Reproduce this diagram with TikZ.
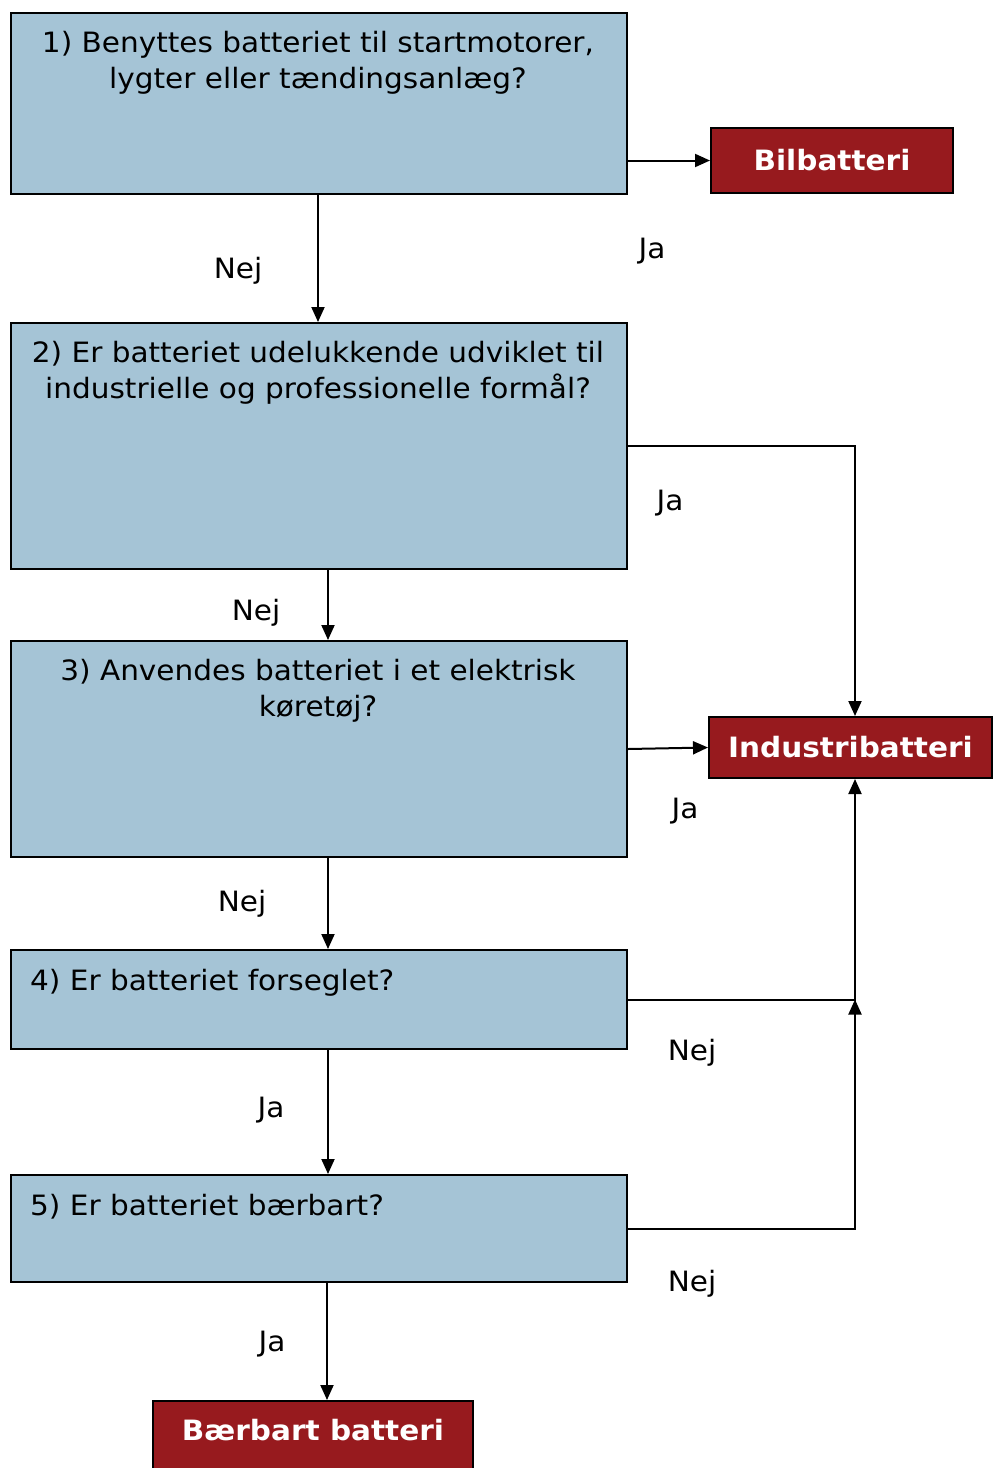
\documentclass[tikz,border=0pt]{standalone}
\usepackage{fontspec}
\setmainfont[FakeStretch=1.055]{DejaVu Sans}
\usetikzlibrary{arrows.meta}
\definecolor{boxblue}{RGB}{165,196,214}
\definecolor{resred}{RGB}{151,26,30}
\begin{document}
\begin{tikzpicture}[x=1pt,y=-1pt,
 qbox/.style={draw, line width=2pt, fill=boxblue, anchor=north west, inner sep=0pt},
 rbox/.style={draw, line width=2pt, fill=resred, inner sep=0pt, font=\fontsize{28}{32}\selectfont\bfseries, text=white},
 qtext/.style={font=\fontsize{28}{36}\selectfont, align=center, inner sep=0pt},
 lbl/.style={font=\fontsize{28}{32}\selectfont, inner sep=0pt, anchor=base},
 arr/.style={line width=2pt, -{Triangle[length=15pt,width=13pt]}}]
\clip (0,0) rectangle (993,1468);
% question boxes
\node[qbox, minimum width=616pt, minimum height=181pt] (q1) at (10,12) {};
\node[qbox, minimum width=616pt, minimum height=246pt] (q2) at (10,322) {};
\node[qbox, minimum width=616pt, minimum height=216pt] (q3) at (10,640) {};
\node[qbox, minimum width=616pt, minimum height=99pt] (q4) at (10,949) {};
\node[qbox, minimum width=616pt, minimum height=107pt] (q5) at (10,1174) {};
% question texts
\node[qtext, anchor=north] (t1) at (318,31) {1) Benyttes batteriet til startmotorer,\\lygter eller tændingsanlæg?};
\node[qtext, anchor=north] (t2) at (318,341) {2) Er batteriet udelukkende udviklet til\\industrielle og professionelle formål?};
\node[qtext, anchor=north] (t3) at (318,659) {3) Anvendes batteriet i et elektrisk\\køretøj?};
\node[qtext, anchor=base west] (t4) at (30,990) {4) Er batteriet forseglet?};
\node[qtext, anchor=base west] (t5) at (30,1215) {5) Er batteriet bærbart?};
% result boxes
\node[rbox, minimum width=242pt, minimum height=65pt] (r1) at (832,160.5) {Bilbatteri};
\node[rbox, minimum width=283pt, minimum height=61pt] (r2) at (850.5,747.5) {Industribatteri};
\node[rbox, minimum width=320pt, minimum height=80pt, anchor=north] (r3) at (313,1400) {};
\node[font=\fontsize{28}{32}\selectfont\bfseries, text=white, inner sep=0pt] (r3t) at (313,1430) {Bærbart batteri};
% helper coordinates
\coordinate (xa) at (318,0);
\coordinate (xb) at (328,0);
\coordinate (xc) at (327,0);
\coordinate (cx) at (855,0);
% connectors
\draw[arr] (r1.west -| q1.east) -- (r1.west);
\draw[arr] (q1.south -| xa) -- (q2.north -| xa);
\draw[arr] (q2.east) -- (q2.east -| cx) -- (r2.north -| cx);
\draw[arr] (q2.south -| xb) -- (q3.north -| xb);
\draw[arr] (q3.east) -- (r2.west);
\draw[arr] (q3.south -| xb) -- (q4.north -| xb);
\draw[arr] (q4.east) -- (q4.east -| cx) -- (r2.south -| cx);
\draw[arr] (q4.south -| xb) -- (q5.north -| xb);
\draw[arr] (q5.east) -- (q5.east -| cx) -- (q4.east -| cx);
\draw[arr] (q5.south -| xc) -- (r3.north -| xc);
% labels
\node[lbl] (l1) at (652,258) {Ja};
\node[lbl] (l2) at (238,278) {Nej};
\node[lbl] (l3) at (670,510) {Ja};
\node[lbl] (l4) at (256,620) {Nej};
\node[lbl] (l5) at (685,818) {Ja};
\node[lbl] (l6) at (242,911) {Nej};
\node[lbl] (l7) at (692,1060) {Nej};
\node[lbl] (l8) at (271,1117) {Ja};
\node[lbl] (l9) at (692,1291) {Nej};
\node[lbl] (l10) at (272,1351) {Ja};
\end{tikzpicture}
\end{document}
